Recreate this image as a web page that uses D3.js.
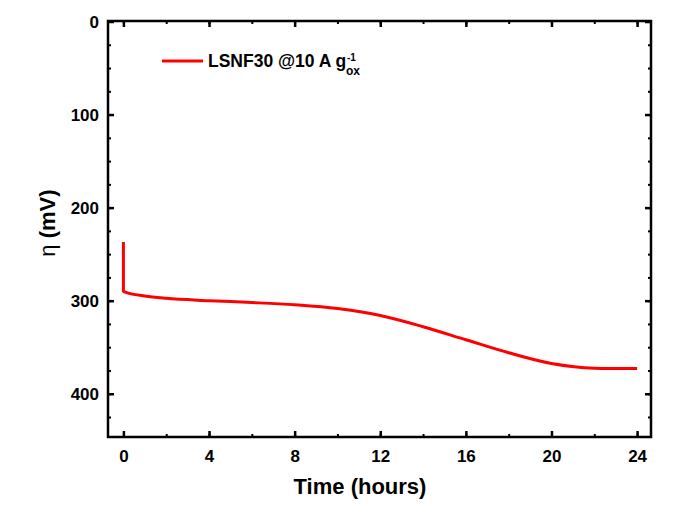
<!DOCTYPE html>
<html><head><meta charset="utf-8">
<script src="https://cdn.jsdelivr.net/npm/d3@7"></script>
<style>body{margin:0;background:#fff}svg{display:block}text{font-family:"Liberation Sans",Arial,sans-serif}</style>
</head><body><svg id="c" width="675" height="508"></svg>
<script>
const timeHours = [0, 0, 0.05, 1, 2, 4, 6, 8, 10, 12, 14, 16, 18, 20, 22, 24];
const etaMV = [237, 290, 290.5, 295, 297.5, 300, 302, 304.5, 308.5, 316, 328, 342, 356, 367.5, 372.5, 373];
const xTicks = [0, 4, 8, 12, 16, 20, 24];
const yTicks = [0, 100, 200, 300, 400];
const legendLabel = "LSNF30 @10 A g";

const svg = d3.select("#c");
const L = 108, R = 651, T = 21, B = 437;
const x = d3.scaleLinear().domain([-0.72, 24.65]).range([L, R]);
const y = d3.scaleLinear().domain([0, 446.5]).range([T + 0.5, B]);

const xMinor = d3.range(0, 24.01, 2);
const yMinor = d3.range(0, 446, 25);

function drawAxis(mk, scale, transform, major, minor) {
  const g1 = svg.append("g").attr("transform", transform)
    .call(mk(scale).tickValues(minor).tickSize(-3).tickFormat(""));
  g1.select(".domain").remove();
  g1.selectAll("line").attr("stroke", "#000").attr("stroke-width", 2);
  const g2 = svg.append("g").attr("transform", transform)
    .call(mk(scale).tickValues(major).tickSize(-6).tickFormat(d3.format("d")));
  g2.select(".domain").remove();
  g2.selectAll("line").attr("stroke", "#000").attr("stroke-width", 2.5);
  return g2;
}

const gb = drawAxis(d3.axisBottom, x, `translate(0,${B})`, xTicks, xMinor);
gb.selectAll("text").attr("font-size", 17).attr("font-weight", "bold").attr("fill", "#000").attr("dy", "0").attr("y", 25);
const gt = drawAxis(d3.axisTop, x, `translate(0,${T})`, xTicks, xMinor);
gt.selectAll("text").remove();
const gl = drawAxis(d3.axisLeft, y, `translate(${L},0)`, yTicks, yMinor);
gl.selectAll("text").attr("font-size", 17).attr("font-weight", "bold").attr("fill", "#000").attr("x", -9).attr("dy", "0.36em");
const gr = drawAxis(d3.axisRight, y, `translate(${R},0)`, yTicks, yMinor);
gr.selectAll("text").remove();

svg.append("rect").attr("x", L).attr("y", T).attr("width", R - L).attr("height", B - T)
  .attr("fill", "none").attr("stroke", "#000").attr("stroke-width", 2.5);

// data line: initial vertical jump, then smooth decay
const pts = timeHours.map((t, i) => [t, etaMV[i]]);
const jump = pts.slice(0, 2);
const rest = pts.slice(1);
const lineStraight = d3.line().x(d => x(d[0])).y(d => y(d[1]));
const lineSmooth = d3.line().x(d => x(d[0])).y(d => y(d[1])).curve(d3.curveMonotoneX);
const pathD = lineStraight(jump) + lineSmooth(rest).replace(/^M/, "L");
svg.append("path").attr("d", pathD)
  .attr("fill", "none").attr("stroke", "#ff0000").attr("stroke-width", 3).attr("stroke-linejoin", "round");

// legend
svg.append("line").attr("x1", 162).attr("x2", 203).attr("y1", 61).attr("y2", 61)
  .attr("stroke", "#ff0000").attr("stroke-width", 3);
svg.append("text").attr("x", 208).attr("y", 67).attr("font-size", 17.5).attr("font-weight", "bold").attr("fill", "#000").text(legendLabel);
svg.append("text").attr("x", 347).attr("y", 61).attr("font-size", 10).attr("font-weight", "bold").text("-1");
svg.append("text").attr("x", 346).attr("y", 75).attr("font-size", 12).attr("font-weight", "bold").text("ox");

svg.append("text").attr("x", 360).attr("y", 494).attr("text-anchor", "middle")
  .attr("font-size", 22).attr("font-weight", "bold").text("Time (hours)");
const yt = svg.append("text").attr("transform", "translate(55,223) rotate(-90)").attr("text-anchor", "middle")
  .attr("font-size", 22);
yt.append("tspan").text("η ");
yt.append("tspan").attr("font-weight", "bold").text("(mV)");
</script></body></html>
